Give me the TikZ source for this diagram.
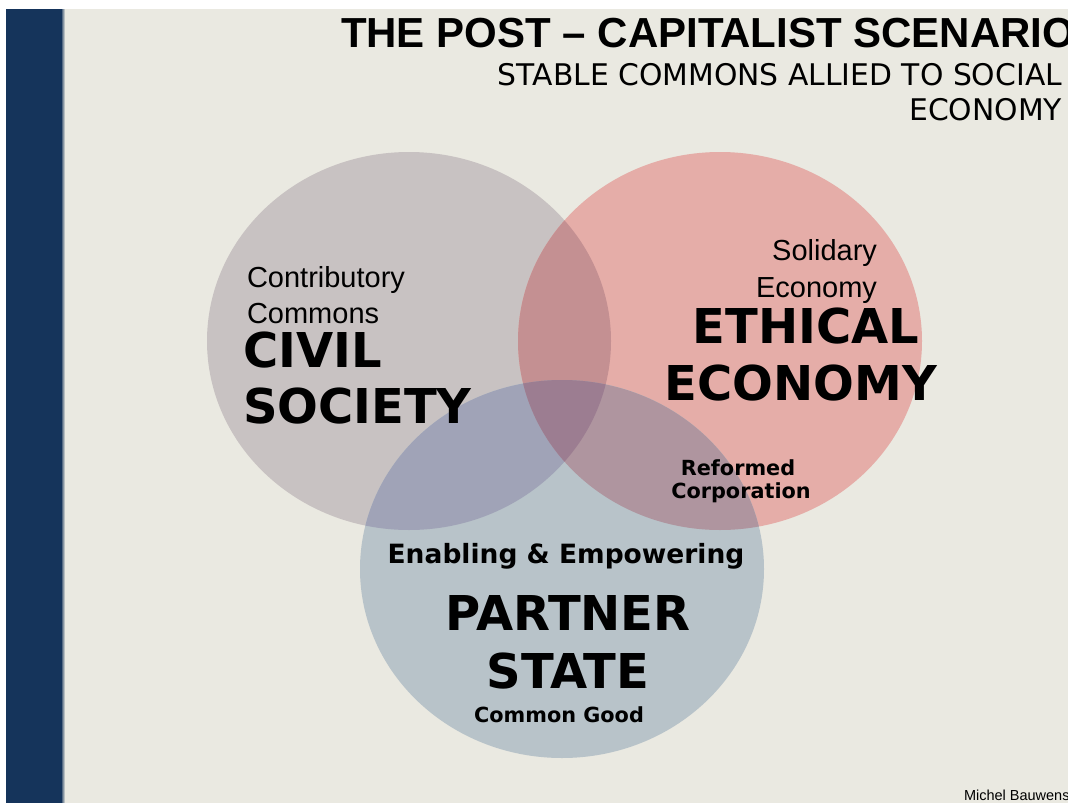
\documentclass[tikz,border=0pt]{standalone}
\usepackage{fontspec}
\newfontfamily\lsans{Liberation Sans}
\newfontfamily\dvs{DejaVu Sans}
\definecolor{bgc}{HTML}{EAE9E1}
\definecolor{barc}{HTML}{15345B}
\definecolor{civc}{HTML}{C8C2C2}
\definecolor{ethc}{HTML}{E5ADA8}
\definecolor{parc}{HTML}{B8C3C9}
\definecolor{cec}{HTML}{C49092}
\definecolor{cpc}{HTML}{A0A3B7}
\definecolor{epc}{HTML}{AF959F}
\definecolor{cepc}{HTML}{9C7D91}
\def\civp{(409,341) ellipse [x radius=202pt, y radius=189pt]}
\def\ethp{(720,341) ellipse [x radius=202pt, y radius=189pt]}
\def\parp{(562,569) ellipse [x radius=202pt, y radius=189pt]}
\begin{document}
\begin{tikzpicture}[x=1pt,y=-1pt,
  lbl/.style={inner sep=0pt, outer sep=0pt, text=black},
  title/.style={lbl, font=\lsans\bfseries\fontsize{42}{48}\selectfont},
  subt/.style={lbl, font=\dvs\fontsize{29.8}{35}\selectfont},
  small/.style={lbl, font=\lsans\fontsize{29}{35}\selectfont},
  big/.style={lbl, font=\dvs\bfseries\fontsize{48}{56}\selectfont},
  mid/.style={lbl, font=\dvs\bfseries\fontsize{26.5}{32}\selectfont},
  minor/.style={lbl, font=\dvs\bfseries\fontsize{20.8}{24}\selectfont}]
\useasboundingbox (0,0) rectangle (1068,803);
\fill[white] (0,0) rectangle (1068,803);
\fill[bgc] (62,9) rectangle (1068,803);
\fill[barc] (6,9) rectangle (62,803);
\shade[left color=barc!70!bgc, right color=bgc] (62,9) rectangle (65,803);
% circles
\fill[civc] \civp;
\fill[ethc] \ethp;
\fill[parc] \parp;
\begin{scope}\clip \civp; \fill[cec] \ethp; \end{scope}
\begin{scope}\clip \civp; \fill[cpc] \parp; \end{scope}
\begin{scope}\clip \ethp; \fill[epc] \parp; \end{scope}
\begin{scope}\clip \civp; \clip \ethp; \fill[cepc] \parp; \end{scope}
% title
\node[title, anchor=base west] (t1) at (341,47) {THE POST – CAPITALIST SCENARIO};
\node[subt, anchor=base east] (t2) at (1062,85) {STABLE COMMONS ALLIED TO SOCIAL};
\node[subt, anchor=base east] (t3) at (1062,120) {ECONOMY};
% civil society
\node[small, anchor=base west] (c1) at (247,287) {Contributory};
\node[small, anchor=base west] (c2) at (247,323) {Commons};
\node[big, anchor=base west] (c3) at (243,367) {CIVIL};
\node[big, anchor=base west] (c4) at (243,423) {SOCIETY};
% ethical economy
\node[small, anchor=base east] (e1) at (877,260) {Solidary};
\node[small, anchor=base east] (e2) at (877,297) {Economy};
\node[big, anchor=base] (e3) at (806,343) {ETHICAL};
\node[big, anchor=base] (e4) at (801,400) {ECONOMY};
\node[minor, anchor=base] (r1) at (738,475) {Reformed};
\node[minor, anchor=base] (r2) at (741,498) {Corporation};
% partner state
\node[mid, anchor=base] (p1) at (566,563) {Enabling \& Empowering};
\node[big, anchor=base] (p2) at (568,630) {PARTNER};
\node[big, anchor=base] (p3) at (568,688) {STATE};
\node[minor, anchor=base] (p4) at (559,722) {Common Good};
% author
\node[lbl, font=\lsans\fontsize{14.5}{16}\selectfont, anchor=base west] (au) at (964,800) {Michel Bauwens};
\end{tikzpicture}
\end{document}
